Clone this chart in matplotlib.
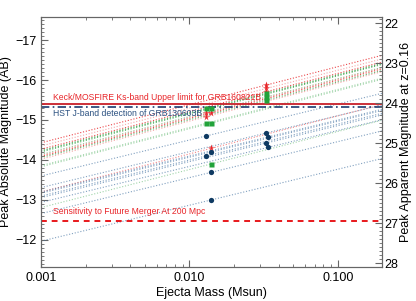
import matplotlib
matplotlib.use("Agg")
import matplotlib.pyplot as plt
from matplotlib.ticker import FixedLocator, MultipleLocator, NullFormatter

plt.rcParams['font.family'] = ['Liberation Sans', 'DejaVu Sans']

# distance modulus used for the right axis (z=0.16)
dist_mod = 39.42

# model lines: peak magnitude at M=0.001 and at M=0.2
line_mass = [0.001, 0.2]
red_lo = [-14.43, -14.35, -14.27, -14.12, -14.09, -14.02, -13.20]
red_hi = [-16.62, -16.53, -16.45, -16.31, -16.28, -16.21, -15.39]
green_lo = [-14.23, -14.14, -14.06, -14.23, -14.20, -13.86, -13.83, -12.81]
green_hi = [-16.41, -16.32, -16.24, -16.42, -16.39, -16.05, -16.02, -15.00]
blue_lo = [-13.60, -13.10, -13.17, -12.66, -11.97, -13.31, -13.20, -13.06, -12.94]
blue_hi = [-15.67, -15.17, -15.24, -14.73, -14.04, -15.38, -15.27, -15.13, -15.01]

# model points
red_m = [0.033, 0.033, 0.033, 0.013, 0.014, 0.013, 0.014]
red_mag = [-15.875, -15.79, -15.71, -15.18, -15.18, -15.08, -14.29]
green_m = [0.033, 0.033, 0.033, 0.013, 0.014, 0.013, 0.014, 0.014]
green_mag = [-15.67, -15.58, -15.50, -15.29, -15.29, -14.92, -14.92, -13.90]
blue_m = [0.013, 0.013, 0.014, 0.014, 0.014, 0.033, 0.034, 0.033, 0.034]
blue_mag = [-14.60, -14.10, -14.20, -13.69, -13.00, -14.68, -14.58, -14.43, -14.32]

keck_limit = -15.39
hst_detect = -15.32
sens_200 = -12.48

fig = plt.figure(figsize=(4.16, 3.01), dpi=100)
ax = fig.add_axes([0.0986, 0.113, 0.8194, 0.8305])

dot = (0, (1, 1.6))
red_alpha = [0.85, 0.4, 0.85, 0.4, 0.85, 0.4, 0.55]
for lo, hi, a in zip(red_lo, red_hi, red_alpha):
    ax.plot(line_mass, [lo, hi], color='#e8262a', ls=dot, lw=0.8, alpha=a)
green_alpha = [0.75, 0.45, 0.75, 0.45, 0.75, 0.45, 0.45, 0.45]
for lo, hi, a in zip(green_lo, green_hi, green_alpha):
    ax.plot(line_mass, [lo, hi], color='#2ca040', ls=dot, lw=0.8, alpha=a)
for lo, hi in zip(blue_lo, blue_hi):
    ax.plot(line_mass, [lo, hi], color='#3f6f9f', ls=dot, lw=0.8, alpha=0.65)

ax.axhline(keck_limit, color='#c8202a', lw=1.3)
ax.axhline(hst_detect, color='#1c3c70', lw=1.2, ls=(0, (5, 2, 1, 2)))
ax.axhline(sens_200, color='#e8181c', lw=1.4, ls=(0, (3, 2.5)))

ax.plot(red_m, red_mag, '*', color='#e8262a', ms=5.5, mec='none')
ax.plot(green_m, green_mag, 's', color='#22a33a', ms=3.6, mec='none')
ax.plot(blue_m, blue_mag, 'o', color='#0f3a62', ms=3.8, mec='none')

ax.text(0.00121, -15.57, 'Keck/MOSFIRE Ks-band Upper limit for GRB160821B',
        color='#e8262a', fontsize=6.2, va='center')
ax.text(0.00121, -15.17, 'HST J-band detection of GRB130603B',
        color='#2a5080', fontsize=6.2, va='center')
ax.text(0.00121, -12.71, 'Sensitivity to Future Merger At 200 Mpc',
        color='#e8262a', fontsize=6.2, va='center')

ax.set_xscale('log')
ax.set_xlim(0.001, 0.198)
ax.set_ylim(-11.325, -17.575)
ax.xaxis.set_major_locator(FixedLocator([0.001, 0.01, 0.1]))
ax.set_xticklabels(['0.001', '0.010', '0.100'])
ax.xaxis.set_minor_formatter(NullFormatter())
ax.yaxis.set_minor_locator(MultipleLocator(0.1))
ax.set_yticks([-17, -16, -15, -14, -13, -12])
ax.tick_params(which='both', direction='in', top=True, right=False,
               color='#666666', labelsize=9)
ax.tick_params(which='major', length=5)
ax.tick_params(which='minor', length=2.5)
ax.set_xlabel('Ejecta Mass (Msun)', fontsize=9, labelpad=2)
ax.set_ylabel('Peak Absolute Magnitude (AB)', fontsize=9, labelpad=2)

ax2 = ax.twinx()
ax2.set_ylim(-11.325 + dist_mod, -17.575 + dist_mod)
ax2.set_yticks([22, 23, 24, 25, 26, 27, 28])
ax2.yaxis.set_minor_locator(MultipleLocator(0.1))
ax2.tick_params(which='both', direction='in', color='#666666', labelsize=9, pad=2)
ax2.tick_params(which='major', length=5)
ax2.tick_params(which='minor', length=2.5)
ax2.set_ylabel('Peak Apparent Magnitude at z=0.16', fontsize=9, labelpad=1)

for a in (ax, ax2):
    for s in a.spines.values():
        s.set_color('#666666')
        s.set_linewidth(0.8)

fig.savefig('out.png', dpi=100)
